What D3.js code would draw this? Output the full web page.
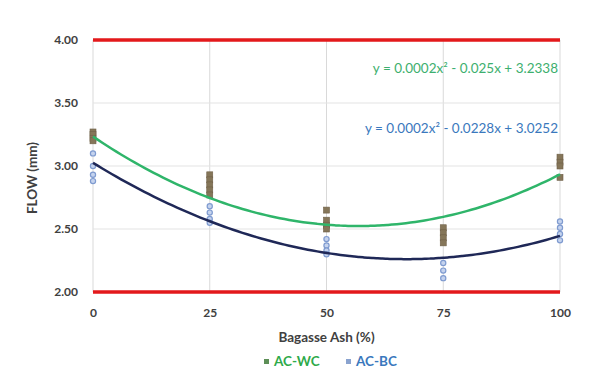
<!DOCTYPE html>
<html>
<head>
<meta charset="utf-8">
<script src="https://cdn.jsdelivr.net/npm/d3@7"></script>
<style>
  body { margin: 0; background: #fff; }
  svg { display: block; font-family: Lato, "Open Sans", sans-serif; }
</style>
</head>
<body>
<script>
const WIDTH = 592;
const HEIGHT = 376;
const margin = {top: 40, right: 32, bottom: 84, left: 93};

// x values (bagasse ash %) and measured flows
const xTicks = [0, 25, 50, 75, 100];
const yTicks = [2.0, 2.5, 3.0, 3.5, 4.0];
const wcX = [0, 0, 0, 0, 25, 25, 25, 25, 25, 50, 50, 50, 50, 75, 75, 75, 75, 100, 100, 100, 100];
const wcY = [3.27, 3.25, 3.22, 3.20, 2.93, 2.89, 2.85, 2.81, 2.77, 2.65, 2.57, 2.53, 2.50, 2.51, 2.47, 2.43, 2.39, 3.07, 3.03, 3.00, 2.91];
const bcX = [0, 0, 0, 0, 25, 25, 25, 25, 50, 50, 50, 50, 75, 75, 75, 100, 100, 100, 100];
const bcY = [3.10, 3.00, 2.93, 2.88, 2.68, 2.63, 2.58, 2.55, 2.42, 2.37, 2.33, 2.30, 2.23, 2.17, 2.11, 2.56, 2.51, 2.46, 2.41];
// trendline coefficients [c, b, a] for c + b*x + a*x^2
const wcFit = [3.2338, -0.025, 0.00022];
const bcFit = [3.0252, -0.0228, 0.00017];
const limits = [2.0, 4.0];
const series = ["AC-WC", "AC-BC"];
const equations = ["y = 0.0002x\u00B2 - 0.025x + 3.2338", "y = 0.0002x\u00B2 - 0.0228x + 3.0252"];

const svg = d3.select("body")
              .append("svg")
              .attr("width", WIDTH)
              .attr("height", HEIGHT);

const x = d3.scaleLinear().domain([0, 100]).range([margin.left, WIDTH - margin.right]);
const y = d3.scaleLinear().domain([2, 4]).range([HEIGHT - margin.bottom, margin.top]);

// grid
svg.append("g")
   .selectAll("line")
   .data(xTicks)
   .join("line")
   .attr("x1", d => x(d)).attr("x2", d => x(d))
   .attr("y1", y(4)).attr("y2", y(2))
   .attr("stroke", "#d9d9d9");

svg.append("g")
   .selectAll("line")
   .data(yTicks.filter(d => d > 2 && d < 4))
   .join("line")
   .attr("x1", x(0)).attr("x2", x(100))
   .attr("y1", d => y(d)).attr("y2", d => y(d))
   .attr("stroke", "#e3e3e3");

// limit lines
svg.append("g")
   .selectAll("line")
   .data(limits)
   .join("line")
   .attr("x1", x(0)).attr("x2", x(100))
   .attr("y1", d => y(d)).attr("y2", d => y(d))
   .attr("stroke", "#e3191b")
   .attr("stroke-width", 3.5);

// axes
const yAxis = svg.append("g")
   .attr("transform", `translate(${x(0)},0)`)
   .call(d3.axisLeft(y).tickValues(yTicks).tickFormat(d3.format(".2f")).tickSize(0).tickPadding(15));
const xAxis = svg.append("g")
   .attr("transform", `translate(0,${y(2)})`)
   .call(d3.axisBottom(x).tickValues(xTicks).tickSize(0).tickPadding(16));
[xAxis, yAxis].forEach(a => {
  a.select(".domain").remove();
  a.selectAll("text").attr("font-size", 12).attr("font-weight", "bold").attr("fill", "#404040")
   .attr("font-family", "Lato, sans-serif");
});

// markers
const wcPts = wcX.map((d, i) => [d, wcY[i]]);
const bcPts = bcX.map((d, i) => [d, bcY[i]]);

svg.append("g")
   .selectAll("rect")
   .data(wcPts)
   .join("rect")
   .attr("x", d => x(d[0]) - 3)
   .attr("y", d => y(d[1]) - 3)
   .attr("width", 6).attr("height", 6)
   .attr("fill", "#857659")
   .attr("stroke", "#6f6048")
   .attr("stroke-width", 0.6);

svg.append("g")
   .selectAll("circle")
   .data(bcPts)
   .join("circle")
   .attr("cx", d => x(d[0]))
   .attr("cy", d => y(d[1]))
   .attr("r", 2.6)
   .attr("fill", "#c5d3ee")
   .attr("stroke", "#7f9bd0")
   .attr("stroke-width", 1.2);

// trendlines
const poly = c => v => c[0] + c[1] * v + c[2] * v * v;
const xs = d3.range(0, 100.5, 1);
const line = d3.line().x(d => x(d[0])).y(d => y(d[1])).curve(d3.curveMonotoneX);

svg.append("path")
   .attr("d", line(xs.map(v => [v, poly(wcFit)(v)])))
   .attr("fill", "none")
   .attr("stroke", "#2fb56a")
   .attr("stroke-width", 2.5);

svg.append("path")
   .attr("d", line(xs.map(v => [v, poly(bcFit)(v)])))
   .attr("fill", "none")
   .attr("stroke", "#1f2857")
   .attr("stroke-width", 2.5);

// equations
svg.append("text")
   .attr("x", x(100) - 2).attr("y", 73)
   .attr("text-anchor", "end")
   .attr("font-size", 13.5)
   .attr("fill", "#3daf6e")
   .text(equations[0]);
svg.append("text")
   .attr("x", x(100) - 2).attr("y", 133)
   .attr("text-anchor", "end")
   .attr("font-size", 13.5)
   .attr("fill", "#3a78bd")
   .text(equations[1]);

// axis titles
svg.append("text")
   .attr("x", x(50)).attr("y", 342)
   .attr("text-anchor", "middle")
   .attr("font-size", 13.5)
   .attr("font-weight", "bold")
   .attr("fill", "#404040")
   .text("Bagasse Ash (%)");

svg.append("text")
   .attr("transform", `translate(37,${(y(2) + y(4)) / 2 + 12}) rotate(-90)`)
   .attr("text-anchor", "middle")
   .attr("font-size", 13.5)
   .attr("font-weight", "bold")
   .attr("fill", "#404040")
   .text("FLOW (mm)");

// legend
const legendColors = ["#2eaa4a", "#3a78bd"];
const markColors = ["#5d8f57", "#8aa3cf"];
const legend = svg.append("g").attr("transform", "translate(264,366)");
const items = legend.selectAll("g")
   .data(series)
   .join("g")
   .attr("transform", (d, i) => `translate(${i * 82},0)`);
items.append("rect")
   .attr("x", 0).attr("y", -7)
   .attr("width", 5).attr("height", 5)
   .attr("fill", (d, i) => markColors[i]);
items.append("text")
   .attr("x", 10).attr("y", 0)
   .attr("font-size", 13.5)
   .attr("font-weight", "bold")
   .attr("fill", (d, i) => legendColors[i])
   .text(d => d);
</script>
</body>
</html>
